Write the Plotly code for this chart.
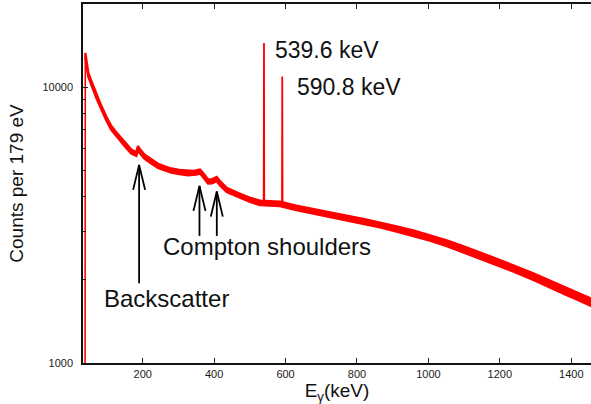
import math
import numpy as np
import plotly.graph_objects as go

# ---- data ----
cont_energy = [39.3, 47.7, 56.1, 70.0, 84.1, 98.0, 112.1, 126.0, 140.1, 154.0, 168.1, 176.0,
               182.1, 186.9, 192.5, 205.6, 224.0, 242.9, 262.0, 280.1, 303.0, 326.9, 340.0,
               349.3, 360.5, 369.0, 382.9, 394.0, 407.2, 416.5, 435.2, 468.0, 500.5, 528.5,
               556.0, 584.5, 630.0, 677.7, 725.0, 771.2, 818.0, 864.4, 911.0, 957.7, 1004.0,
               1051.2, 1093.0, 1135.2, 1168.0, 1200.4, 1247.0, 1293.7, 1340.0, 1387.2, 1420.0,
               1452.4, 1460.0]
cont_counts = [13090, 11080, 10365, 9300, 8413, 7700, 7112, 6750, 6443, 6120, 5837, 5760,
               5728, 6007, 5850, 5587, 5370, 5182, 5070, 4983, 4920, 4876, 4880,
               4900, 4942, 4800, 4546, 4560, 4638, 4480, 4242, 4060, 3901, 3804,
               3790, 3773, 3650, 3539, 3440, 3349, 3260, 3168, 3060, 2954, 2840,
               2718, 2600, 2486, 2390, 2299, 2180, 2056, 1935, 1814, 1740,
               1668, 1650]

edge_energy = [36.5, 38.6, 39.3]
edge_counts = [300, 600, 13090]

peak_energy = [539.6, 590.8]
peak_counts = [14440, 10925]
peak_base = [3800, 3770]

label_text = ["539.6 keV", "590.8 keV", "Compton shoulders", "Backscatter"]
label_energy = [565.7, 626.5, 250.0, 87.0]
label_counts = [13650, 10030, 2647, 1711]

arrow_energy = [190.0, 359.0, 407.5]
arrow_tip = [5224, 4385, 4181]
arrow_tail = [1945, 2888, 2888]

x_ticks = [200, 400, 600, 800, 1000, 1200, 1400]
y_ticks = [1000, 10000]
y_minor = [2000, 3000, 4000, 5000, 6000, 7000, 8000, 9000, 20000]

# ---- styles ----
RED = "#ff0000"
FONT = "Liberation Sans, Arial, sans-serif"
X_RANGE = [32.9, 1455.2]
Y_RANGE = [3.0, math.log10(20000)]
PX_PER_DECADE = 275.7
HEAD_LEN_DEC = 0.0907   # arrow head length in decades
HEAD_HALF_KEV = 16.8    # arrow head half width in keV
LABEL_SIZES = [23, 23, 24, 24]
# thickness of the noisy band (vertical half-width in px) versus energy: style only
BAND_E = [30, 500, 900, 1460]
BAND_HW = [1.9, 2.1, 2.6, 3.6]

fig = go.Figure()

e_arr = np.array(cont_energy)
c_arr = np.array(cont_counts, dtype=float)
fac = 10 ** (np.interp(e_arr, BAND_E, BAND_HW) / PX_PER_DECADE)
band_x = list(e_arr) + list(e_arr[::-1])
band_y = list(c_arr * fac) + list((c_arr / fac)[::-1])
fig.add_trace(go.Scatter(x=band_x, y=band_y, mode="lines", fill="toself", fillcolor=RED,
                         line=dict(color=RED, width=2.4), hoverinfo="skip"))

fig.add_trace(go.Scatter(x=edge_energy, y=edge_counts, mode="lines",
                         line=dict(color=RED, width=1.6), hoverinfo="skip"))
for e, c, b in zip(peak_energy, peak_counts, peak_base):
    fig.add_trace(go.Scatter(x=[e - 0.8, e, e + 0.8], y=[b, c, b], mode="lines",
                             line=dict(color=RED, width=1.8), hoverinfo="skip"))

shapes = []
for e, tip, tail in zip(arrow_energy, arrow_tip, arrow_tail):
    ln = dict(color="black", width=1.8)
    shapes.append(dict(type="line", xref="x", yref="y", x0=e, x1=e, y0=tail, y1=tip, line=ln))
    hb = 10 ** (math.log10(tip) - HEAD_LEN_DEC)
    for s in (-1, 1):
        shapes.append(dict(type="line", xref="x", yref="y", x0=e + s * HEAD_HALF_KEV, x1=e,
                           y0=hb, y1=tip, line=ln))

annotations = []
for t, e, c, fs in zip(label_text, label_energy, label_counts, LABEL_SIZES):
    annotations.append(dict(text=t, x=e, y=math.log10(c), xref="x", yref="y",
                            xanchor="left", yanchor="middle", showarrow=False,
                            font=dict(family=FONT, size=fs, color="#111111")))

axis_common = dict(showgrid=False, zeroline=False, ticks="inside", automargin=False,
                   tickcolor="#222222", linecolor="#111111", linewidth=1.5,
                   tickfont=dict(family=FONT, size=11, color="#1a1a1a"))

fig.update_layout(
    width=591, height=404,
    margin=dict(l=83, r=0, t=4, b=41),
    paper_bgcolor="white", plot_bgcolor="white",
    showlegend=False,
    shapes=shapes, annotations=annotations,
    xaxis=dict(range=X_RANGE, tickvals=x_ticks, ticklen=5, showline=True, mirror="ticks",
               title=dict(text="E<sub>γ</sub>(keV)", font=dict(family=FONT, size=19, color="#111111"),
                          standoff=2),
               **axis_common),
    yaxis=dict(type="log", range=Y_RANGE, tickvals=y_ticks, ticktext=["1000", "10000"],
               ticklen=5, showline=True, ticklabelstandoff=6,
               minor=dict(tickvals=y_minor, ticks="inside", ticklen=3, tickcolor="#222222"),
               title=dict(text="Counts per 179 eV", font=dict(family=FONT, size=19, color="#111111"),
                          standoff=14),
               **axis_common),
    yaxis2=dict(type="log", range=Y_RANGE, overlaying="y", side="right", tickvals=y_ticks,
                showticklabels=False, showline=False, showgrid=False, zeroline=False,
                ticks="inside", ticklen=6, tickcolor="#222222", automargin=False,
                minor=dict(tickvals=y_minor, ticks="inside", ticklen=3, tickcolor="#222222")),
)

fig.write_html("out.html", config={"displayModeBar": False},
               post_script="document.body.style.margin='0';document.body.style.overflow='hidden';")
